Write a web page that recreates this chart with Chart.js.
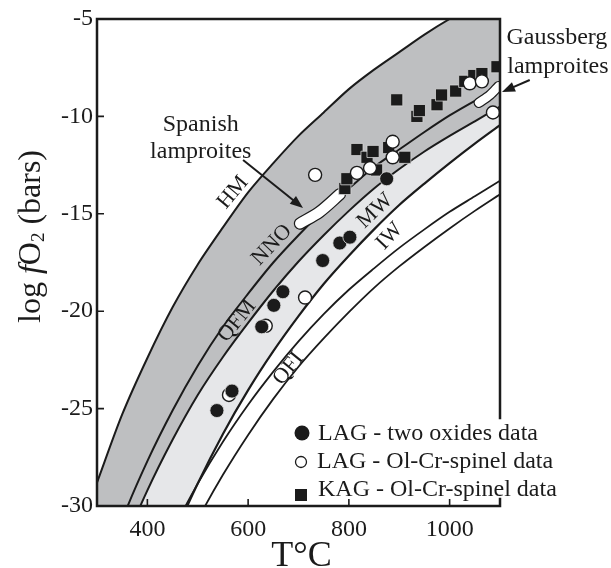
<!DOCTYPE html>
<html>
<head>
<meta charset="utf-8">
<script src="https://cdn.jsdelivr.net/npm/chart.js@4.4.1/dist/chart.umd.min.js"></script>
<style>
  html, body { margin: 0; padding: 0; background: #fff; }
  #wrap { width: 611px; height: 568px; }
</style>
</head>
<body>
<div id="wrap"><canvas id="fo2Chart" width="611" height="568"></canvas></div>
<script>
// temperature grid (°C) for the buffer curves
const temps = [300, 350, 400, 450, 500, 550, 600, 650, 700, 750, 800, 850, 900, 950, 1000, 1050, 1100];

// buffer curves, log fO2 (bars) - values past -30 / -5 run off the frame
const hm  = [-28.8, -25.3, -22.4, -19.8, -17.6, -15.7, -13.9, -12.4, -11.0, -9.8, -8.6, -7.6, -6.7, -5.8, -5.0, -4.3, -3.6];
const nno = [-34.3, -30.7, -27.7, -25.1, -22.8, -20.8, -19.1, -17.5, -16.1, -14.8, -13.7, -12.6, -11.7, -10.8, -9.95, -9.2, -8.5];
const qfm = [-35.8, -32.2, -29.2, -26.6, -24.3, -22.35, -20.6, -18.95, -17.45, -16.1, -14.85, -13.7, -12.7, -11.8, -11.0, -10.25, -9.5];
const mw  = [-43.4, -38.9, -35.1, -31.7, -28.85, -26.3, -24.05, -22.05, -20.25, -18.6, -17.15, -15.8, -14.55, -13.45, -12.4, -11.4, -10.45];
const iw  = [-41.3, -37.4, -34.1, -31.3, -28.85, -26.7, -24.8, -23.1, -21.55, -20.15, -18.9, -17.8, -16.75, -15.8, -14.9, -14.1, -13.3];
const qfi = [-44.0, -39.9, -36.35, -33.3, -30.7, -28.4, -26.35, -24.5, -22.85, -21.4, -20.05, -18.8, -17.7, -16.7, -15.75, -14.85, -14.0];

// LAG - two oxides data
const lagOxT = [538, 568, 627, 651, 669, 748, 782, 802, 875];
const lagOxF = [-25.1, -24.1, -20.8, -19.7, -19.0, -17.4, -16.5, -16.2, -13.2];

// LAG - Ol-Cr-spinel data
const lagSpT = [562, 635, 713, 733, 816, 842, 887, 887, 1040, 1064, 1086];
const lagSpF = [-24.3, -20.75, -19.3, -13.0, -12.9, -12.65, -12.1, -11.3, -8.3, -8.2, -9.8];

// KAG - Ol-Cr-spinel data
const kagT = [792, 796, 816, 836, 848, 855, 879, 911, 895, 935, 940, 975, 984, 1012, 1030, 1048, 1064, 1094];
const kagF = [-13.7, -13.2, -11.7, -12.1, -11.8, -12.75, -11.6, -12.1, -9.15, -10.0, -9.7, -9.4, -8.9, -8.7, -8.2, -7.9, -7.8, -7.45];

// lamproite fields
const spanT = [703, 742, 782];
const spanF = [-15.5, -14.9, -14.0];
const gausT = [1058, 1080, 1097];
const gausF = [-9.3, -8.9, -8.45];

const xTicks = [400, 600, 800, 1000];
const yTicks = [-30, -25, -20, -15, -10, -5];

const ink = '#1b1b1b';
const serif = "'Liberation Serif', 'Times New Roman', serif";
const darkGrey = '#bebfc1';
const lightGrey = '#e6e7e9';

const pts = (xs, ys) => xs.map((v, i) => ({ x: v, y: ys[i] }));

// labels set along the curves
const curveLabels = [
    { text: 'HM',  t: 570, f: -13.9, rot: -50 },
    { text: 'NNO', t: 647, f: -16.6, rot: -46 },
    { text: 'QFM', t: 578, f: -20.5, rot: -51 },
    { text: 'MW',  t: 852, f: -14.85, rot: -44 },
    { text: 'IW',  t: 881, f: -16.15, rot: -47 },
    { text: 'QFI', t: 680, f: -22.95, rot: -51 }
];

const curve = (label, data, extra) => Object.assign({
    label: label,
    data: data,
    borderColor: ink,
    borderWidth: 2,
    pointRadius: 0,
    showLine: true,
    fill: false,
    tension: 0.3,
    order: 6
}, extra);

const blob = (data, color, width) => ({
    data: data,
    borderColor: color,
    borderWidth: width,
    borderCapStyle: 'round',
    pointRadius: 0,
    showLine: true,
    fill: false,
    tension: 0.3,
    order: color === '#fff' ? 4 : 5
});

function arrow(ctx, x0, y0, x1, y1) {
    const ang = Math.atan2(y1 - y0, x1 - x0);
    const len = 13, half = 5;
    ctx.beginPath();
    ctx.moveTo(x0, y0);
    ctx.lineTo(x1 - Math.cos(ang) * len * 0.8, y1 - Math.sin(ang) * len * 0.8);
    ctx.stroke();
    ctx.beginPath();
    ctx.moveTo(x1, y1);
    ctx.lineTo(x1 - Math.cos(ang) * len - Math.sin(ang) * half, y1 - Math.sin(ang) * len + Math.cos(ang) * half);
    ctx.lineTo(x1 - Math.cos(ang) * len + Math.sin(ang) * half, y1 - Math.sin(ang) * len - Math.cos(ang) * half);
    ctx.closePath();
    ctx.fill();
}

const extras = {
    id: 'extras',
    beforeDraw(chart) {
        const c = chart.ctx;
        c.save();
        c.fillStyle = '#fff';
        c.fillRect(0, 0, chart.width, chart.height);
        c.restore();
    },
    afterDraw(chart) {
        const c = chart.ctx;
        const a = chart.chartArea;
        const x = chart.scales.x, y = chart.scales.y;
        const legendTop = a.bottom - 88;
        c.save();

        // curve labels
        c.fillStyle = ink;
        c.font = '22px ' + serif;
        c.textAlign = 'center';
        c.textBaseline = 'middle';
        curveLabels.forEach(l => {
            c.save();
            c.translate(x.getPixelForValue(l.t), y.getPixelForValue(l.f));
            c.rotate(l.rot * Math.PI / 180);
            c.fillText(l.text, 0, 0);
            c.restore();
        });

        // annotations
        c.font = '24px ' + serif;
        c.fillText('Spanish', x.getPixelForValue(506), y.getPixelForValue(-10.44));
        c.fillText('lamproites', x.getPixelForValue(506), y.getPixelForValue(-11.83));
        c.fillText('Gaussberg', x.getPixelForValue(1213), y.getPixelForValue(-5.98));
        c.fillText('lamproites', x.getPixelForValue(1215), y.getPixelForValue(-7.46));
        c.strokeStyle = ink;
        c.lineWidth = 2;
        arrow(c, x.getPixelForValue(590), y.getPixelForValue(-12.24), x.getPixelForValue(709), y.getPixelForValue(-14.7));
        arrow(c, x.getPixelForValue(1159), y.getPixelForValue(-8.13), x.getPixelForValue(1104), y.getPixelForValue(-8.75));

        // frame (right side stops above the legend)
        c.lineWidth = 2.5;
        c.lineCap = 'square';
        c.beginPath();
        c.moveTo(a.left, a.bottom);
        c.lineTo(a.left, a.top);
        c.lineTo(a.right, a.top);
        c.lineTo(a.right, legendTop);
        c.moveTo(a.left, a.bottom);
        c.lineTo(a.right, a.bottom);
        c.moveTo(a.right, a.bottom);
        c.lineTo(a.right, a.bottom - 7);
        c.stroke();

        // inward ticks
        c.lineWidth = 1.6;
        c.lineCap = 'butt';
        c.beginPath();
        xTicks.forEach(v => {
            const px = x.getPixelForValue(v);
            c.moveTo(px, a.bottom);
            c.lineTo(px, a.bottom - 7);
        });
        yTicks.forEach(v => {
            const py = y.getPixelForValue(v);
            c.moveTo(a.left, py);
            c.lineTo(a.left + 7, py);
        });
        c.stroke();

        // legend
        const lx = a.left + 204;
        const rows = [a.bottom - 72, a.bottom - 44, a.bottom - 16];
        c.fillStyle = ink;
        c.beginPath();
        c.arc(lx + 1, rows[0] - 1, 7.5, 0, Math.PI * 2);
        c.fill();
        c.fillStyle = '#fff';
        c.lineWidth = 1.3;
        c.beginPath();
        c.arc(lx, rows[1], 5.5, 0, Math.PI * 2);
        c.fill();
        c.stroke();
        c.fillStyle = ink;
        c.fillRect(lx - 6, rows[2] - 1, 12, 12);
        c.font = '24px ' + serif;
        c.textAlign = 'left';
        c.textBaseline = 'middle';
        c.fillText('LAG - two oxides data', lx + 17, rows[0]);
        c.fillText('LAG - Ol-Cr-spinel data', lx + 16, rows[1]);
        c.fillText('KAG - Ol-Cr-spinel data', lx + 17, rows[2]);

        // axis titles
        c.textAlign = 'center';
        c.textBaseline = 'alphabetic';
        c.font = '36px ' + serif;
        c.fillText('T\u00b0C', (a.left + a.right) / 2 + 3, 566);

        c.save();
        c.translate(40, 323);
        c.rotate(-Math.PI / 2);
        c.textAlign = 'left';
        let cx = 0;
        const part = (txt, font, dy) => {
            c.font = font;
            c.fillText(txt, cx, dy || 0);
            cx += c.measureText(txt).width;
        };
        part('log ', '32px ' + serif);
        part('f', 'italic 32px ' + serif);
        part('O', '32px ' + serif);
        part('2', '19px ' + serif, 4);
        part(' (bars)', '32px ' + serif);
        c.restore();

        c.restore();
    }
};

const chart = new Chart(document.getElementById('fo2Chart'), {
    type: 'line',
    data: {
        datasets: [
            curve('HM', pts(temps, hm), { fill: 2, backgroundColor: darkGrey }),
            curve('NNO', pts(temps, nno)),
            curve('QFM', pts(temps, qfm), { fill: 3, backgroundColor: lightGrey }),
            curve('MW', pts(temps, mw), { borderWidth: 2.2 }),
            curve('IW', pts(temps, iw), { borderWidth: 1.8 }),
            curve('QFI', pts(temps, qfi), { borderWidth: 1.8 }),
            blob(pts(spanT, spanF), ink, 12.5),
            blob(pts(spanT, spanF), '#fff', 10),
            blob(pts(gausT, gausF), ink, 10.5),
            blob(pts(gausT, gausF), '#fff', 8),
            {
                label: 'KAG - Ol-Cr-spinel data',
                data: pts(kagT, kagF),
                showLine: false,
                pointStyle: 'rect',
                pointRadius: 8.6,
                pointBackgroundColor: ink,
                pointBorderColor: '#d8d8d8',
                pointBorderWidth: 0.8,
                order: 2
            },
            {
                label: 'LAG - Ol-Cr-spinel data',
                data: pts(lagSpT, lagSpF),
                showLine: false,
                pointStyle: 'circle',
                pointRadius: 6.5,
                pointBackgroundColor: '#fff',
                pointBorderColor: ink,
                pointBorderWidth: 1.4,
                order: 1
            },
            {
                label: 'LAG - two oxides data',
                data: pts(lagOxT, lagOxF),
                showLine: false,
                pointStyle: 'circle',
                pointRadius: 7,
                pointBackgroundColor: ink,
                pointBorderColor: '#e0e0e0',
                pointBorderWidth: 0.8,
                order: 0
            }
        ]
    },
    options: {
        responsive: false,
        animation: false,
        events: [],
        layout: { padding: { left: 0, top: 19, right: 111, bottom: 0 } },
        plugins: {
            legend: { display: false },
            tooltip: { enabled: false },
            filler: { drawTime: 'beforeDatasetsDraw' }
        },
        scales: {
            x: {
                type: 'linear',
                min: 300,
                max: 1100,
                afterBuildTicks: s => { s.ticks = xTicks.map(v => ({ value: v })); },
                afterFit: s => { s.height = 62; },
                grid: { display: false, drawTicks: false },
                border: { display: false },
                ticks: { color: ink, padding: 9, font: { family: serif, size: 24 }, callback: v => String(v) }
            },
            y: {
                type: 'linear',
                min: -30,
                max: -5,
                afterBuildTicks: s => { s.ticks = yTicks.map(v => ({ value: v })); },
                afterFit: s => { s.width = 97; },
                grid: { display: false, drawTicks: false },
                border: { display: false },
                ticks: { color: ink, padding: 4, font: { family: serif, size: 24 }, callback: v => String(v) }
            }
        }
    },
    plugins: [extras]
});
</script>
</body>
</html>
